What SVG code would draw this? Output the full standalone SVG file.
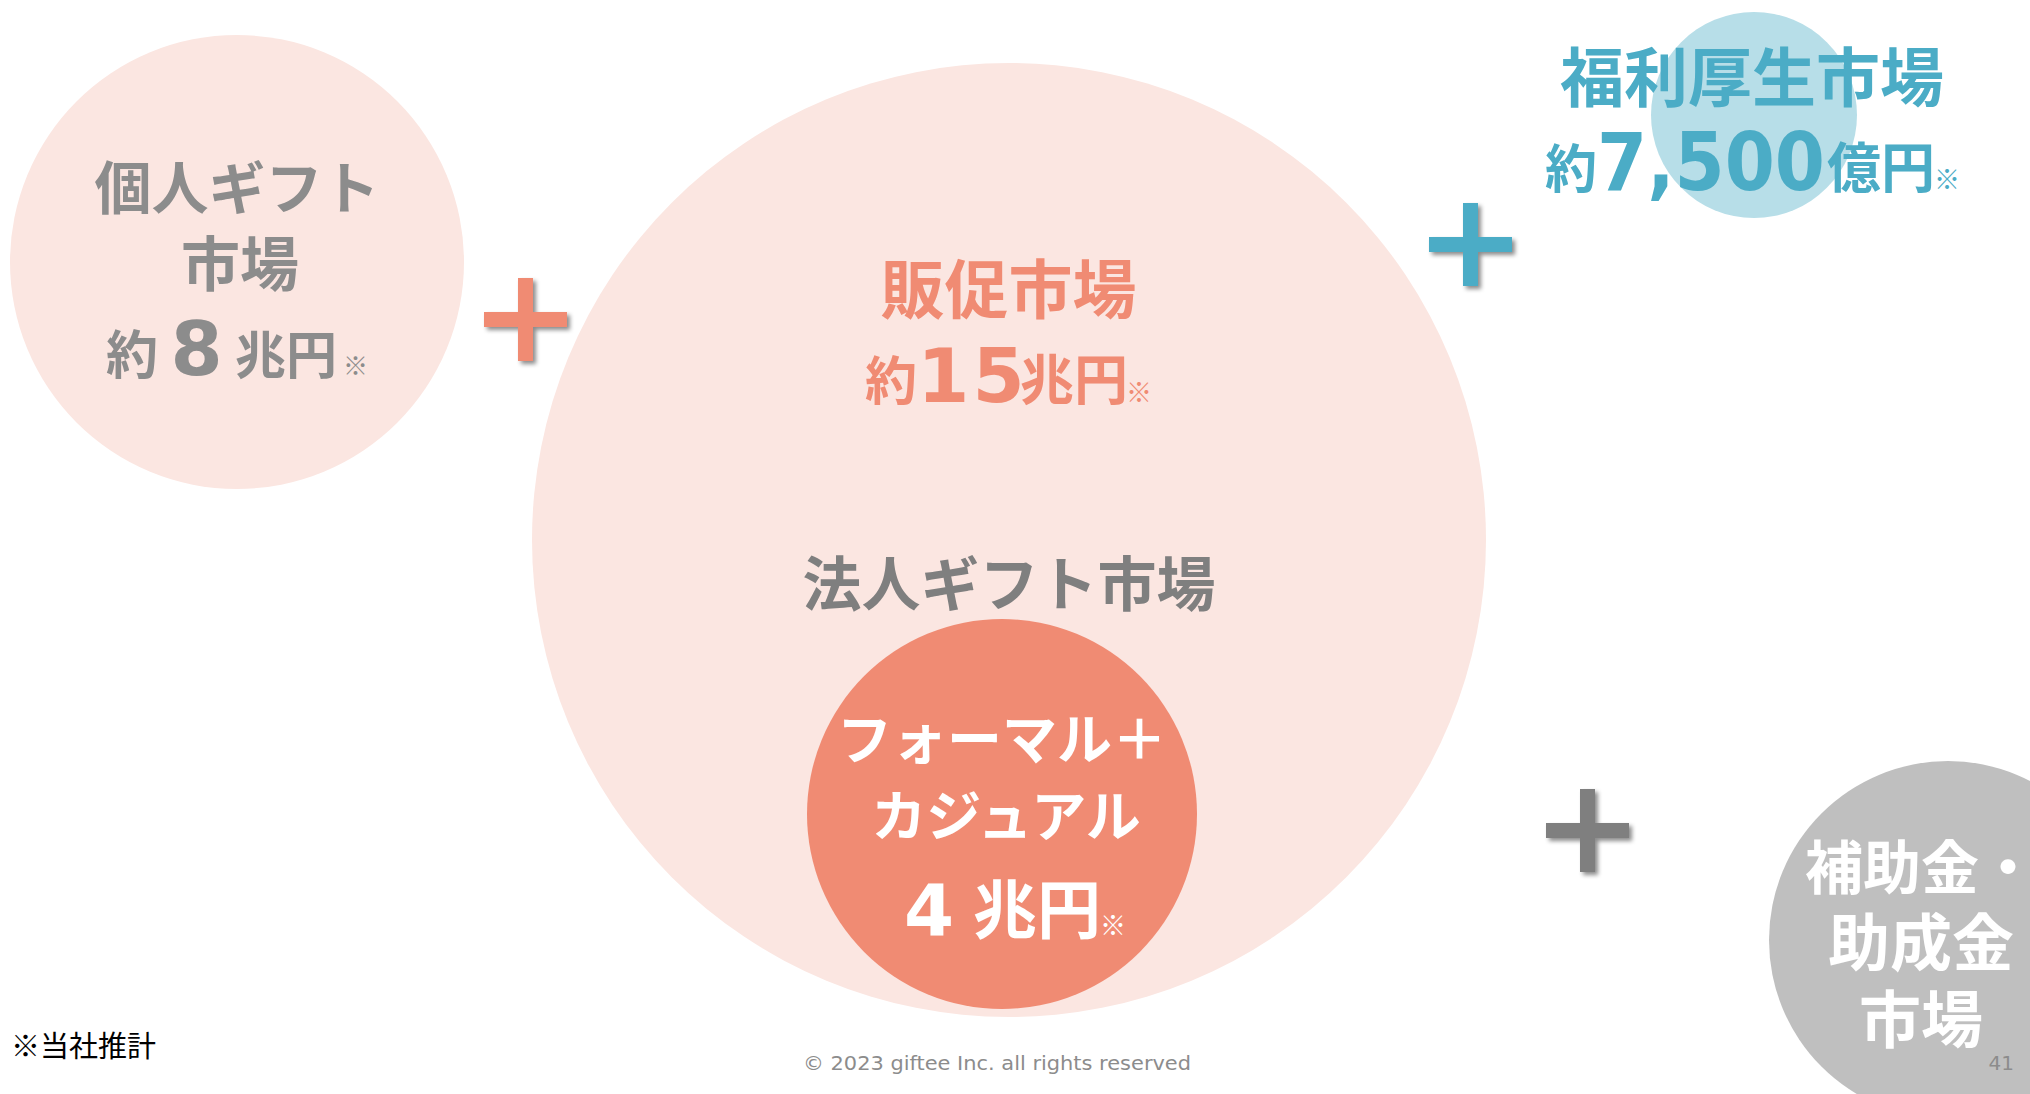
<svg xmlns="http://www.w3.org/2000/svg" width="2030" height="1094" viewBox="0 0 2030 1094">
<defs>
<style>
.jp{font-family:'Noto Sans CJK JP','Noto Sans',sans-serif;font-weight:700}
.num{font-family:'DejaVu Sans','Liberation Sans',sans-serif;font-weight:700}
.mid{text-anchor:middle}
.pink{fill:#fbe6e1}
.gray{fill:#8c8c8c}
.dgray{fill:#7f7f7f}
.sal{fill:#f08b73}
.blue{fill:#4bacc6}
.white{fill:#ffffff}
</style>
<filter id="shadow" x="-20%" y="-20%" width="150%" height="150%">
<feDropShadow dx="3" dy="3" stdDeviation="2" flood-color="#000" flood-opacity="0.45"/>
</filter>
<path id="plus" d="M34,0 h15 v34 h34 v15 h-34 v34 h-15 v-34 h-34 v-15 h34 z"/>
</defs>
<rect width="2030" height="1094" fill="#ffffff"/>

<g id="hansoku-market">
<circle cx="1009" cy="540" r="477" class="pink"/>
<text class="jp sal mid" x="1008.5" y="313" font-size="64">販促市場</text>
<text class="jp sal" x="865" y="400" font-size="52">約</text>
<text class="num sal mid" x="972.5" y="402" font-size="75" letter-spacing="3">15</text>
<text class="jp sal" x="1020" y="400" font-size="54">兆円</text>
<text class="jp sal" x="1126" y="402" font-size="26">※</text>
<text class="jp dgray mid" x="1009" y="606" font-size="59">法人ギフト市場</text>
</g>

<g id="personal-gift-market">
<circle cx="237" cy="262" r="227" class="pink"/>
<text class="jp gray mid" x="237" y="209" font-size="57">個人ギフト</text>
<text class="jp gray mid" x="240" y="286" font-size="59">市場</text>
<text class="jp gray" x="106" y="374" font-size="52">約</text>
<text class="num gray mid" x="196.5" y="375" font-size="75">8</text>
<text class="jp gray" x="235" y="374" font-size="51">兆円</text>
<text class="jp gray" x="343" y="375" font-size="25">※</text>
</g>

<g id="corporate-gift-market">
<circle cx="1002" cy="814" r="195" fill="#f08b73"/>
<text class="jp white mid" x="1002" y="759" font-size="55">フォーマル＋</text>
<text class="jp white mid" x="1006" y="836" font-size="55">カジュアル</text>
<text class="num white mid" x="929" y="935" font-size="72">4</text>
<text class="jp white" x="973" y="933" font-size="64">兆円</text>
<text class="jp white" x="1100" y="935" font-size="26">※</text>
</g>

<g id="welfare-market">
<circle cx="1754" cy="115" r="103" fill="#b7dee8"/>
<text class="jp blue mid" x="1752" y="101" font-size="64">福利厚生市場</text>
<text class="jp blue" x="1545" y="188" font-size="52">約</text>
<text class="num blue" x="1597" y="190" font-size="80" textLength="228" lengthAdjust="spacingAndGlyphs">7,500</text>
<text class="jp blue" x="1827" y="188" font-size="54">億円</text>
<text class="jp blue" x="1934" y="189" font-size="26">※</text>
</g>

<g id="subsidy-market">
<circle cx="1948" cy="940" r="179" fill="#bfbfbf"/>
<text class="jp white mid" x="1921" y="889" font-size="58">補助金・</text>
<text class="jp white mid" x="1921" y="966" font-size="62">助成金</text>
<text class="jp white mid" x="1921" y="1043" font-size="62">市場</text>
</g>

<g id="connectors">
<use href="#plus" x="484" y="278" fill="#f08b73" filter="url(#shadow)"/>
<use href="#plus" x="1429" y="203" fill="#4bacc6" filter="url(#shadow)"/>
<use href="#plus" x="1546" y="789" fill="#7f7f7f" filter="url(#shadow)"/>
</g>

<g id="footer">
<text x="11" y="1057" font-family="'Noto Sans CJK JP',sans-serif" font-size="29" fill="#000000">※当社推計</text>
<text x="803" y="1070" font-family="'DejaVu Sans',sans-serif" font-size="20" fill="#8c8c8c" textLength="388" lengthAdjust="spacingAndGlyphs">© 2023 giftee Inc. all rights reserved</text>
<text x="2014" y="1070" font-family="'DejaVu Sans',sans-serif" font-size="20" fill="#8c8c8c" text-anchor="end">41</text>
</g>
</svg>
